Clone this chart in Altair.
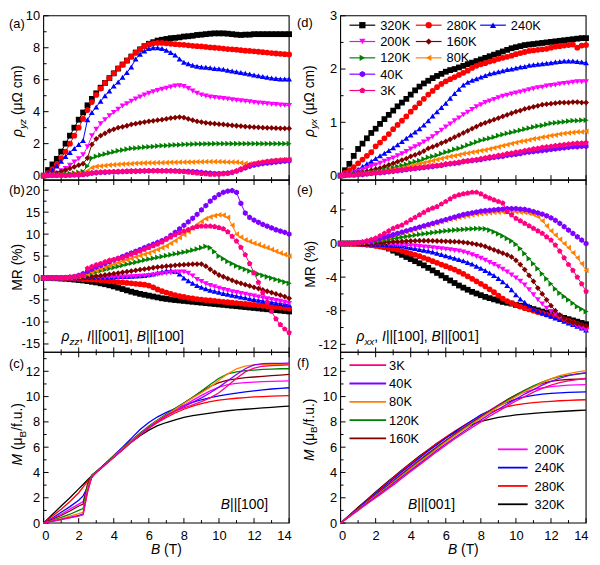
import altair as alt
import pandas as pd

FONT = "Liberation Sans"

# ---------------- field grids ----------------
FIELD = [0, 0.25, 0.5, 0.75, 1, 1.25, 1.5, 1.75, 2, 2.25, 2.5, 2.75, 3, 3.25, 3.5, 3.75,
         4, 4.25, 4.5, 4.75, 5, 5.25, 5.5, 5.75, 6, 6.25, 6.5, 6.75, 7, 7.25, 7.5, 7.75,
         8, 8.25, 8.5, 8.75, 9, 9.25, 9.5, 9.75, 10, 10.25, 10.5, 10.75, 11, 11.25, 11.5, 11.75,
         12, 12.25, 12.5, 12.75, 13, 13.25, 13.5, 13.75, 14]
FIELD_M = [0, 0.5, 1, 1.5, 2, 2.25, 2.5, 2.75, 3, 3.5, 4, 4.5, 5, 5.5, 6, 6.5, 7, 7.5,
           8, 8.5, 9, 9.5, 10, 10.5, 11, 11.5, 12, 12.5, 13, 13.5, 14]

TEMPS = ["320K", "280K", "240K", "200K", "160K", "120K", "80K", "40K", "3K"]
COLORS = ["#000000", "#FF0000", "#0000FF", "#FF00FF", "#800000", "#008000", "#FF8000", "#8000FF", "#FF0080"]
HEX = "M0,-1L0.866,-0.5L0.866,0.5L0,1L-0.866,0.5L-0.866,-0.5Z"
PENT = "M0,-1L0.951,-0.309L0.588,0.809L-0.588,0.809L-0.951,-0.309Z"
SHAPES = ["square", "circle", "triangle-up", "triangle-down", "diamond",
          "triangle-right", "triangle-left", HEX, PENT]

# ---------------- (a) rho_yz, B||[100] ----------------
RA_320 = [0, 0.35, 0.7, 1.05, 1.5, 2.0, 2.5, 3.0, 3.5, 3.95, 4.4, 4.8, 5.15, 5.5, 5.8, 6.1,
          6.4, 6.7, 6.95, 7.2, 7.45, 7.7, 7.9, 8.1, 8.25, 8.35, 8.45, 8.5, 8.55, 8.6, 8.62, 8.65,
          8.7, 8.72, 8.75, 8.8, 8.82, 8.85, 8.88, 8.9, 8.9, 8.9, 8.88, 8.85, 8.82, 8.8, 8.82, 8.82,
          8.85, 8.85, 8.85, 8.85, 8.85, 8.85, 8.85, 8.85, 8.85]
RA_280 = [0, 0.15, 0.4, 0.7, 1.1, 1.5, 2.0, 2.5, 3.0, 3.55, 4.1, 4.6, 5.05, 5.45, 5.8, 6.1,
          6.4, 6.7, 6.95, 7.2, 7.45, 7.7, 7.9, 8.1, 8.22, 8.28, 8.3, 8.3, 8.28, 8.25, 8.22, 8.2,
          8.18, 8.15, 8.12, 8.1, 8.08, 8.05, 8.02, 8.0, 7.98, 7.95, 7.92, 7.9, 7.88, 7.85, 7.82, 7.8,
          7.78, 7.75, 7.72, 7.7, 7.67, 7.64, 7.62, 7.6, 7.58]
RA_240 = [0, 0.15, 0.35, 0.6, 0.9, 1.2, 1.45, 1.7, 1.95, 2.2, 3.5, 3.95, 4.3, 4.65, 5.0, 5.3,
          5.6, 5.85, 6.15, 6.45, 6.8, 7.3, 7.6, 7.8, 7.95, 8.0, 8.0, 7.95, 7.85, 7.7, 7.55, 7.3,
          7.1, 7.0, 6.9, 6.85, 6.8, 6.78, 6.75, 6.7, 6.68, 6.65, 6.6, 6.55, 6.5, 6.45, 6.4, 6.35,
          6.3, 6.25, 6.2, 6.15, 6.1, 6.08, 6.05, 6.05, 6.05]
RA_200 = [0, 0.03, 0.08, 0.15, 0.3, 0.45, 0.65, 0.85, 1.05, 1.3, 1.8, 2.5, 2.9, 3.25, 3.5, 3.75,
          3.95, 4.15, 4.35, 4.5, 4.65, 4.8, 4.92, 5.05, 5.15, 5.25, 5.32, 5.4, 5.47, 5.55, 5.6, 5.62,
          5.58, 5.45, 5.3, 5.15, 5.05, 4.98, 4.92, 4.88, 4.85, 4.82, 4.8, 4.75, 4.72, 4.68, 4.65, 4.62,
          4.58, 4.55, 4.52, 4.5, 4.47, 4.45, 4.42, 4.4, 4.38]
RA_160 = [0, 0.03, 0.08, 0.15, 0.25, 0.35, 0.45, 0.55, 0.65, 0.75, 1.1, 1.95, 2.3, 2.5, 2.65, 2.8,
          2.9, 3.0, 3.05, 3.12, 3.2, 3.25, 3.3, 3.35, 3.4, 3.43, 3.47, 3.5, 3.55, 3.6, 3.63, 3.66,
          3.63, 3.55, 3.47, 3.4, 3.35, 3.3, 3.27, 3.25, 3.22, 3.2, 3.17, 3.15, 3.12, 3.1, 3.07, 3.05,
          3.03, 3.02, 3.0, 2.99, 2.98, 2.97, 2.96, 2.95, 2.95]
RA_120 = [0, 0.01, 0.03, 0.05, 0.08, 0.1, 0.13, 0.16, 0.2, 0.25, 0.6, 1.1, 1.2, 1.28, 1.35, 1.42,
          1.48, 1.55, 1.6, 1.65, 1.7, 1.72, 1.75, 1.78, 1.8, 1.82, 1.85, 1.87, 1.88, 1.9, 1.92, 1.93,
          1.95, 1.96, 1.97, 1.98, 1.98, 1.99, 1.99, 2.0, 2.0, 2.0, 2.0, 2.0, 2.0, 2.0, 2.0, 2.0,
          2.0, 2.0, 2.0, 2.0, 2.0, 2.0, 2.0, 2.0, 2.0]
RA_80 = [0, 0.01, 0.02, 0.03, 0.04, 0.05, 0.06, 0.08, 0.1, 0.13, 0.3, 0.5, 0.57, 0.6, 0.63, 0.66,
         0.68, 0.7, 0.72, 0.74, 0.75, 0.77, 0.78, 0.79, 0.8, 0.8, 0.81, 0.81, 0.82, 0.83, 0.83, 0.84,
         0.84, 0.85, 0.85, 0.86, 0.86, 0.87, 0.87, 0.87, 0.87, 0.86, 0.85, 0.85, 0.84, 0.8, 0.76, 0.74,
         0.76, 0.8, 0.84, 0.88, 0.92, 0.95, 0.98, 1.0, 1.02]
RA_40 = [0, 0, 0.01, 0.01, 0.02, 0.02, 0.03, 0.04, 0.05, 0.06, 0.1, 0.15, 0.18, 0.2, 0.21, 0.22,
         0.23, 0.24, 0.25, 0.26, 0.27, 0.27, 0.28, 0.28, 0.29, 0.3, 0.3, 0.3, 0.3, 0.3, 0.29, 0.28,
         0.27, 0.26, 0.25, 0.23, 0.2, 0.17, 0.15, 0.13, 0.13, 0.14, 0.16, 0.2, 0.28, 0.38, 0.48, 0.58,
         0.65, 0.7, 0.75, 0.79, 0.82, 0.85, 0.88, 0.9, 0.92]
RA_3 = [0, 0, 0.01, 0.01, 0.02, 0.02, 0.03, 0.04, 0.05, 0.06, 0.12, 0.17, 0.2, 0.22, 0.23, 0.24,
        0.25, 0.26, 0.27, 0.28, 0.29, 0.3, 0.3, 0.31, 0.31, 0.31, 0.31, 0.3, 0.3, 0.29, 0.28, 0.26,
        0.24, 0.21, 0.18, 0.15, 0.12, 0.1, 0.08, 0.08, 0.09, 0.11, 0.14, 0.2, 0.3, 0.42, 0.55, 0.66,
        0.74, 0.8, 0.85, 0.89, 0.92, 0.95, 0.97, 0.99, 1.0]

# ---------------- (b) MR rho_zz ----------------
MRB_320 = [0, 0, -0.02, -0.05, -0.1, -0.15, -0.25, -0.35, -0.45, -0.55, -0.7, -0.85, -1.0, -1.2, -1.4, -1.65,
           -1.9, -2.2, -2.5, -2.8, -3.1, -3.35, -3.6, -3.8, -4.0, -4.2, -4.4, -4.6, -4.75, -4.88, -5.0, -5.1,
           -5.2, -5.3, -5.4, -5.5, -5.6, -5.7, -5.8, -5.9, -6.0, -6.1, -6.2, -6.3, -6.4, -6.5, -6.6, -6.7,
           -6.8, -6.9, -7.0, -7.1, -7.2, -7.3, -7.4, -7.5, -7.6]
MRB_280 = [0, 0, 0, -0.02, -0.05, -0.08, -0.1, -0.15, -0.2, -0.25, -0.3, -0.35, -0.4, -0.5, -0.6, -0.7,
           -0.8, -0.9, -1.0, -1.1, -1.2, -1.3, -1.4, -1.5, -1.7, -2.1, -2.6, -3.0, -3.3, -3.6, -3.9, -4.1,
           -4.3, -4.5, -4.65, -4.8, -4.9, -5.0, -5.1, -5.2, -5.3, -5.4, -5.5, -5.6, -5.7, -5.8, -5.9, -6.0,
           -6.1, -6.2, -6.3, -6.4, -6.5, -6.6, -6.7, -6.8, -6.9]
MRB_240 = [0, 0, 0, 0.02, 0.03, 0.05, 0.07, 0.08, 0.1, 0.12, 0.15, 0.17, 0.2, 0.22, 0.25, 0.27,
           0.3, 0.33, 0.36, 0.38, 0.4, 0.45, 0.5, 0.6, 0.75, 0.95, 1.2, 1.45, 1.65, 1.75, 1.5, 0.9,
           0.0, -0.6, -1.2, -1.7, -2.1, -2.45, -2.75, -3.0, -3.25, -3.5, -3.7, -3.9, -4.1, -4.3, -4.5, -4.7,
           -4.9, -5.05, -5.2, -5.35, -5.5, -5.65, -5.8, -5.95, -6.1]
MRB_200 = [0, 0, 0, 0, 0, 0.01, 0.02, 0.03, 0.04, 0.05, 0.06, 0.08, 0.1, 0.12, 0.14, 0.16,
           0.18, 0.2, 0.22, 0.25, 0.3, 0.35, 0.4, 0.5, 0.6, 0.7, 0.85, 1.0, 1.1, 1.2, 1.3, 1.4,
           1.4, 1.1, 0.5, -0.3, -0.8, -1.3, -1.7, -2.0, -2.3, -2.6, -2.85, -3.1, -3.3, -3.5, -3.7, -3.9,
           -4.1, -4.3, -4.5, -4.7, -4.9, -5.1, -5.3, -5.5, -5.8]
MRB_160 = [0, 0, 0.01, 0.02, 0.04, 0.06, 0.09, 0.12, 0.16, 0.2, 0.25, 0.3, 0.45, 0.55, 0.7, 0.85,
           1.0, 1.15, 1.3, 1.45, 1.6, 1.75, 1.9, 2.05, 2.2, 2.35, 2.5, 2.6, 2.7, 2.8, 2.9, 3.0,
           3.05, 3.1, 3.15, 3.2, 3.2, 2.7, 2.0, 1.3, 0.7, 0.3, -0.1, -0.5, -0.9, -1.2, -1.5, -1.8,
           -2.1, -2.4, -2.7, -3.0, -3.3, -3.6, -3.9, -4.2, -4.6]
MRB_120 = [0, 0, 0.01, 0.03, 0.06, 0.1, 0.15, 0.2, 0.3, 0.5, 0.8, 1.1, 1.4, 1.65, 1.9, 2.15,
           2.4, 2.65, 2.9, 3.15, 3.4, 3.6, 3.85, 4.1, 4.3, 4.5, 4.7, 4.9, 5.1, 5.3, 5.5, 5.7,
           5.9, 6.1, 6.35, 6.6, 6.9, 7.2, 6.9, 6.0, 5.0, 4.4, 3.8, 3.3, 2.8, 2.4, 2.0, 1.6,
           1.25, 0.9, 0.6, 0.3, 0.0, -0.3, -0.6, -0.9, -1.2]
MRB_80 = [0, 0, 0.01, 0.03, 0.06, 0.1, 0.15, 0.25, 0.35, 0.55, 0.9, 1.3, 1.7, 2.1, 2.45, 2.8,
          3.15, 3.5, 3.85, 4.15, 4.45, 4.8, 5.1, 5.4, 5.7, 6.1, 6.5, 6.9, 7.3, 7.9, 8.5, 9.2,
          9.9, 10.6, 11.4, 12.2, 12.9, 13.5, 13.9, 14.2, 14.4, 14.3, 13.8, 12.0, 10.0, 9.3, 8.7, 8.3,
          7.9, 7.6, 7.2, 6.9, 6.5, 6.1, 5.7, 5.35, 5.0]
MRB_40 = [0, 0, 0.01, 0.03, 0.06, 0.1, 0.2, 0.3, 0.6, 1.0, 1.5, 2.0, 2.5, 2.9, 3.3, 3.7,
          4.1, 4.5, 4.9, 5.3, 5.7, 6.1, 6.5, 6.9, 7.3, 7.7, 8.1, 8.5, 9.0, 9.7, 10.4, 11.2,
          12.0, 12.8, 13.6, 14.5, 15.5, 16.5, 17.5, 18.3, 19.0, 19.5, 19.8, 19.9, 19.5, 17.0, 14.8, 13.8,
          13.2, 12.7, 12.2, 11.8, 11.4, 11.0, 10.7, 10.4, 10.0]
MRB_3 = [0, 0, 0.01, 0.03, 0.06, 0.1, 0.2, 0.3, 0.45, 0.65, 2.2, 2.6, 3.0, 3.3, 3.7, 4.0,
         4.2, 4.4, 4.6, 5.0, 5.4, 5.8, 6.1, 6.5, 6.9, 7.3, 7.7, 8.2, 8.8, 9.3, 9.8, 10.3,
         10.7, 11.0, 11.4, 11.7, 11.8, 11.8, 11.8, 11.7, 11.5, 11.2, 10.5, 9.5, 8.4, 7.0, 5.3, 3.3,
         1.2, -1.0, -3.3, -5.5, -7.6, -9.3, -10.6, -11.6, -12.4]

# ---------------- (c) M, B||[100] ----------------
MC_320 = [0, 0.68, 1.35, 2.0, 2.7, 3.05, 3.4, 3.75, 4.05, 4.65, 5.2, 5.8, 6.4, 6.9, 7.35, 7.7,
          7.95, 8.15, 8.35, 8.5, 8.6, 8.7, 8.8, 8.88, 8.95, 9.0, 9.05, 9.1, 9.15, 9.2, 9.25]
MC_280 = [0, 0.55, 1.1, 1.7, 2.4, 2.85, 3.3, 3.65, 4.0, 4.65, 5.25, 5.85, 6.45, 7.0, 7.5, 7.95,
          8.35, 8.7, 9.0, 9.25, 9.45, 9.6, 9.72, 9.8, 9.87, 9.92, 9.97, 10.0, 10.03, 10.06, 10.08]
MC_240 = [0, 0.4, 0.85, 1.3, 1.8, 2.15, 2.8, 3.6, 4.05, 4.7, 5.35, 6.0, 6.7, 7.4, 7.95, 8.4,
          8.75, 9.05, 9.3, 9.55, 9.75, 9.92, 10.05, 10.18, 10.28, 10.38, 10.46, 10.53, 10.6, 10.65, 10.7]
MC_200 = [0, 0.35, 0.7, 1.1, 1.5, 1.7, 2.9, 3.7, 4.0, 4.65, 5.3, 5.9, 6.5, 7.1, 7.6, 8.05,
          8.5, 8.9, 9.3, 9.7, 10.1, 10.45, 10.75, 10.95, 11.05, 11.1, 11.15, 11.18, 11.2, 11.22, 11.25]
MC_160 = [0, 0.3, 0.6, 0.95, 1.35, 1.5, 3.1, 3.8, 4.05, 4.65, 5.3, 5.9, 6.5, 7.1, 7.65, 8.15,
          8.6, 9.05, 9.5, 9.95, 10.4, 10.8, 11.1, 11.3, 11.4, 11.5, 11.55, 11.6, 11.65, 11.7, 11.75]
MC_120 = [0, 0.22, 0.45, 0.7, 1.0, 1.15, 2.9, 3.8, 4.05, 4.65, 5.3, 5.9, 6.5, 7.1, 7.65, 8.15,
          8.6, 9.05, 9.5, 9.95, 10.45, 10.95, 11.45, 11.8, 11.95, 12.05, 12.1, 12.15, 12.18, 12.2, 12.2]
MC_80 = [0, 0.17, 0.35, 0.55, 0.75, 0.85, 2.7, 3.75, 4.0, 4.6, 5.25, 5.85, 6.45, 7.05, 7.6, 8.1,
         8.55, 9.0, 9.45, 9.9, 10.3, 10.75, 11.3, 11.8, 12.2, 12.4, 12.5, 12.55, 12.55, 12.55, 12.55]
MC_40 = [0, 0.15, 0.3, 0.45, 0.6, 0.7, 2.5, 3.7, 4.0, 4.6, 5.2, 5.8, 6.4, 7.0, 7.55, 8.05,
         8.5, 8.85, 9.2, 9.55, 9.9, 10.3, 10.75, 11.25, 11.75, 12.2, 12.5, 12.6, 12.62, 12.63, 12.65]
MC_3 = [0, 0.14, 0.28, 0.42, 0.55, 0.65, 2.4, 3.7, 4.0, 4.6, 5.2, 5.8, 6.4, 6.95, 7.5, 8.0,
        8.45, 8.85, 9.1, 9.35, 9.6, 9.9, 10.3, 10.85, 11.45, 11.95, 12.25, 12.4, 12.45, 12.47, 12.5]

# ---------------- (d) rho_yx, B||[001] ----------------
RD_320 = [0, 0.1, 0.22, 0.37, 0.5, 0.6, 0.7, 0.8, 0.88, 0.97, 1.06, 1.14, 1.22, 1.3, 1.37, 1.44,
          1.52, 1.6, 1.67, 1.73, 1.78, 1.83, 1.87, 1.91, 1.95, 1.98, 2.0, 2.03, 2.06, 2.09, 2.12, 2.15,
          2.18, 2.21, 2.24, 2.27, 2.3, 2.33, 2.36, 2.39, 2.41, 2.43, 2.45, 2.46, 2.47, 2.48, 2.49, 2.5,
          2.51, 2.52, 2.53, 2.54, 2.55, 2.56, 2.57, 2.58, 2.58]
RD_280 = [0, 0.05, 0.1, 0.16, 0.23, 0.3, 0.37, 0.44, 0.55, 0.62, 0.7, 0.78, 0.87, 0.95, 1.03, 1.11,
          1.2, 1.28, 1.36, 1.44, 1.52, 1.59, 1.66, 1.72, 1.77, 1.81, 1.85, 1.89, 1.93, 1.97, 2.02, 2.06,
          2.09, 2.11, 2.14, 2.16, 2.19, 2.21, 2.23, 2.25, 2.28, 2.3, 2.32, 2.34, 2.35, 2.36, 2.37, 2.38,
          2.4, 2.42, 2.43, 2.44, 2.45, 2.46, 2.4, 2.44, 2.45]
RD_240 = [0, 0.02, 0.05, 0.08, 0.12, 0.17, 0.22, 0.27, 0.32, 0.37, 0.42, 0.47, 0.52, 0.58, 0.64, 0.7,
          0.76, 0.82, 0.88, 0.95, 1.03, 1.12, 1.2, 1.28, 1.36, 1.45, 1.54, 1.62, 1.7, 1.75, 1.79, 1.82,
          1.85, 1.88, 1.91, 1.93, 1.95, 1.97, 1.99, 2.0, 2.02, 2.04, 2.05, 2.07, 2.08, 2.09, 2.1, 2.11,
          2.12, 2.13, 2.14, 2.15, 2.15, 2.15, 2.14, 2.13, 2.12]
RD_200 = [0, 0.01, 0.03, 0.05, 0.08, 0.11, 0.14, 0.17, 0.2, 0.23, 0.27, 0.3, 0.33, 0.37, 0.41, 0.45,
          0.5, 0.54, 0.58, 0.63, 0.68, 0.73, 0.79, 0.85, 0.91, 0.97, 1.03, 1.08, 1.14, 1.19, 1.24, 1.29,
          1.33, 1.37, 1.4, 1.43, 1.46, 1.49, 1.51, 1.53, 1.55, 1.57, 1.59, 1.61, 1.63, 1.65, 1.66, 1.68,
          1.69, 1.7, 1.72, 1.73, 1.74, 1.75, 1.76, 1.76, 1.76]
RD_160 = [0, 0.01, 0.02, 0.03, 0.05, 0.06, 0.08, 0.1, 0.12, 0.14, 0.17, 0.2, 0.23, 0.26, 0.29, 0.32,
          0.36, 0.39, 0.42, 0.46, 0.51, 0.54, 0.57, 0.61, 0.64, 0.68, 0.72, 0.76, 0.8, 0.84, 0.88, 0.92,
          0.96, 0.99, 1.02, 1.05, 1.08, 1.11, 1.14, 1.17, 1.2, 1.22, 1.25, 1.27, 1.29, 1.31, 1.33, 1.34,
          1.35, 1.36, 1.37, 1.37, 1.37, 1.38, 1.38, 1.37, 1.37]
RD_120 = [0, 0, 0.01, 0.02, 0.03, 0.04, 0.05, 0.06, 0.08, 0.09, 0.11, 0.13, 0.15, 0.17, 0.19, 0.21,
          0.24, 0.26, 0.28, 0.31, 0.34, 0.36, 0.38, 0.41, 0.44, 0.46, 0.49, 0.51, 0.54, 0.57, 0.6, 0.63,
          0.66, 0.68, 0.7, 0.72, 0.75, 0.77, 0.79, 0.81, 0.83, 0.85, 0.87, 0.89, 0.91, 0.93, 0.94, 0.96,
          0.98, 0.99, 1.0, 1.01, 1.02, 1.03, 1.03, 1.04, 1.04]
RD_80 = [0, 0, 0.01, 0.01, 0.02, 0.03, 0.04, 0.05, 0.06, 0.07, 0.08, 0.1, 0.11, 0.13, 0.14, 0.16,
         0.18, 0.2, 0.22, 0.24, 0.26, 0.28, 0.3, 0.32, 0.34, 0.36, 0.37, 0.39, 0.41, 0.42, 0.44, 0.45,
         0.47, 0.48, 0.5, 0.52, 0.54, 0.56, 0.58, 0.6, 0.62, 0.64, 0.65, 0.67, 0.69, 0.7, 0.72, 0.73,
         0.75, 0.76, 0.78, 0.79, 0.8, 0.81, 0.82, 0.82, 0.83]
RD_40 = [0, 0, 0.01, 0.01, 0.02, 0.02, 0.03, 0.04, 0.05, 0.05, 0.06, 0.07, 0.08, 0.09, 0.1, 0.11,
         0.12, 0.13, 0.14, 0.15, 0.16, 0.17, 0.18, 0.19, 0.21, 0.22, 0.23, 0.24, 0.26, 0.27, 0.28, 0.29,
         0.3, 0.32, 0.33, 0.34, 0.35, 0.36, 0.38, 0.39, 0.4, 0.41, 0.43, 0.44, 0.45, 0.46, 0.47, 0.48,
         0.49, 0.5, 0.51, 0.52, 0.53, 0.54, 0.54, 0.55, 0.55]
RD_3 = [0, 0, 0.01, 0.01, 0.02, 0.03, 0.03, 0.04, 0.05, 0.06, 0.07, 0.08, 0.09, 0.1, 0.11, 0.12,
        0.13, 0.14, 0.15, 0.16, 0.17, 0.18, 0.19, 0.2, 0.22, 0.23, 0.24, 0.25, 0.27, 0.28, 0.29, 0.3,
        0.32, 0.33, 0.35, 0.36, 0.38, 0.39, 0.41, 0.42, 0.44, 0.45, 0.47, 0.48, 0.5, 0.51, 0.53, 0.54,
        0.55, 0.56, 0.57, 0.58, 0.59, 0.6, 0.61, 0.61, 0.62]

# ---------------- (e) MR rho_xx ----------------
MRE_320 = [0, 0, 0, 0, 0, -0.02, -0.05, -0.1, -0.15, -0.25, -0.4, -0.6, -0.85, -1.1, -1.35, -1.6,
           -1.85, -2.1, -2.35, -2.6, -2.9, -3.2, -3.5, -3.8, -4.1, -4.4, -4.7, -5.0, -5.25, -5.5, -5.75, -5.95,
           -6.15, -6.35, -6.5, -6.65, -6.8, -6.95, -7.05, -7.15, -7.3, -7.4, -7.5, -7.65, -7.8, -7.95, -8.1, -8.25,
           -8.4, -8.55, -8.7, -8.85, -9.0, -9.15, -9.3, -9.45, -9.6]
MRE_280 = [0, 0, 0, -0.02, -0.05, -0.1, -0.15, -0.2, -0.28, -0.36, -0.45, -0.55, -0.65, -0.75, -0.9, -1.05,
           -1.2, -1.35, -1.5, -1.7, -1.9, -2.1, -2.3, -2.5, -2.7, -2.9, -3.1, -3.35, -3.6, -3.9, -4.2, -4.5,
           -4.8, -5.1, -5.45, -5.8, -6.2, -6.55, -6.85, -7.1, -7.3, -7.5, -7.7, -7.85, -8.0, -8.15, -8.3, -8.45,
           -8.6, -8.75, -8.9, -9.05, -9.2, -9.4, -9.6, -9.8, -10.0]
MRE_240 = [0, 0, 0, 0, 0, -0.02, -0.04, -0.06, -0.08, -0.1, -0.13, -0.17, -0.2, -0.25, -0.3, -0.4,
           -0.5, -0.6, -0.7, -0.8, -0.9, -1.0, -1.15, -1.3, -1.45, -1.6, -1.75, -1.9, -2.05, -2.25, -2.45, -2.7,
           -2.95, -3.2, -3.5, -3.8, -4.15, -4.55, -5.0, -5.5, -6.1, -6.6, -7.0, -7.4, -7.8, -8.05, -8.25, -8.45,
           -8.65, -8.85, -9.05, -9.25, -9.45, -9.65, -9.85, -10.05, -10.3]
MRE_200 = [0, 0, 0, 0, 0, 0, -0.01, -0.02, -0.03, -0.05, -0.07, -0.09, -0.12, -0.15, -0.18, -0.22,
           -0.26, -0.3, -0.35, -0.4, -0.45, -0.5, -0.56, -0.62, -0.68, -0.75, -0.82, -0.9, -1.0, -1.15, -1.35, -1.55,
           -1.75, -2.0, -2.25, -2.5, -2.75, -3.05, -3.4, -3.75, -4.1, -4.5, -4.95, -5.5, -6.1, -6.7, -7.2, -7.7,
           -8.1, -8.45, -8.8, -9.1, -9.35, -9.6, -9.85, -10.1, -10.3]
MRE_160 = [0, 0, 0, 0.01, 0.02, 0.04, 0.06, 0.08, 0.1, 0.12, 0.15, 0.18, 0.2, 0.22, 0.25, 0.28,
           0.3, 0.32, 0.33, 0.33, 0.33, 0.32, 0.3, 0.28, 0.26, 0.24, 0.22, 0.2, 0.15, 0.08, 0.0, -0.1,
           -0.2, -0.35, -0.55, -0.75, -0.95, -1.15, -1.35, -1.6, -2.0, -2.5, -3.1, -3.8, -4.5, -5.3, -6.0, -6.7,
           -7.4, -8.0, -8.5, -8.9, -9.2, -9.4, -9.55, -9.65, -9.8]
MRE_120 = [0, 0, 0.01, 0.03, 0.06, 0.1, 0.15, 0.2, 0.27, 0.35, 0.43, 0.52, 0.6, 0.68, 0.76, 0.84,
           0.92, 1.0, 1.08, 1.15, 1.22, 1.3, 1.37, 1.43, 1.5, 1.55, 1.6, 1.64, 1.68, 1.72, 1.75, 1.78,
           1.78, 1.75, 1.6, 1.4, 1.15, 0.9, 0.6, 0.3, -0.1, -0.6, -1.2, -1.8, -2.4, -3.0, -3.6, -4.2,
           -4.8, -5.4, -5.9, -6.3, -6.7, -7.1, -7.5, -7.8, -8.1]
MRE_80 = [0, 0, 0.02, 0.05, 0.1, 0.15, 0.22, 0.3, 0.45, 0.55, 0.68, 0.8, 0.95, 1.1, 1.25, 1.4,
          1.55, 1.7, 1.85, 2.0, 2.15, 2.3, 2.45, 2.6, 2.75, 2.9, 3.0, 3.1, 3.2, 3.3, 3.4, 3.5,
          3.55, 3.6, 3.65, 3.7, 3.75, 3.78, 3.8, 3.8, 3.78, 3.75, 3.7, 3.6, 3.45, 3.2, 2.7, 2.1,
          1.5, 1.0, 0.5, 0.0, -0.5, -1.1, -1.7, -2.4, -3.2]
MRE_40 = [0, 0, 0.02, 0.05, 0.1, 0.17, 0.25, 0.35, 0.47, 0.6, 0.75, 0.9, 1.05, 1.2, 1.35, 1.5,
          1.65, 1.8, 1.95, 2.1, 2.25, 2.4, 2.55, 2.7, 2.85, 3.0, 3.15, 3.3, 3.45, 3.55, 3.65, 3.75,
          3.85, 3.9, 3.95, 4.0, 4.05, 4.1, 4.15, 4.15, 4.15, 4.1, 4.05, 3.95, 3.8, 3.65, 3.5, 3.3,
          3.05, 2.75, 2.4, 2.0, 1.6, 1.2, 0.8, 0.4, 0.0]
MRE_3 = [0, 0, 0.02, 0.05, 0.1, 0.18, 0.3, 0.45, 0.65, 0.9, 1.2, 1.5, 1.8, 2.0, 2.2, 2.5,
         2.8, 3.1, 3.4, 3.7, 4.0, 4.2, 4.4, 4.7, 5.0, 5.3, 5.6, 5.8, 5.9, 6.0, 6.1, 6.1,
         5.9, 5.6, 5.4, 5.2, 5.0, 4.8, 3.8, 3.4, 3.0, 2.7, 2.4, 2.1, 1.8, 1.5, 1.2, 0.8,
         0.4, -0.2, -0.9, -1.7, -2.5, -3.2, -4.0, -4.8, -5.7]

# ---------------- (f) M, B||[001] ----------------
MF_320 = [0, 0.62, 1.25, 1.85, 2.45, 2.75, 3.05, 3.35, 3.62, 4.2, 4.75, 5.3, 5.8, 6.3, 6.75, 7.15,
          7.5, 7.8, 8.05, 8.2, 8.35, 8.45, 8.55, 8.62, 8.68, 8.73, 8.78, 8.82, 8.86, 8.9, 8.93]
MF_280 = [0, 0.6, 1.2, 1.8, 2.4, 2.7, 3.0, 3.3, 3.58, 4.15, 4.7, 5.25, 5.8, 6.3, 6.8, 7.25,
          7.7, 8.1, 8.45, 8.75, 9.0, 9.2, 9.35, 9.45, 9.52, 9.58, 9.63, 9.67, 9.7, 9.73, 9.75]
MF_240 = [0, 0.58, 1.16, 1.74, 2.32, 2.61, 2.9, 3.19, 3.48, 4.05, 4.6, 5.15, 5.7, 6.2, 6.7, 7.2,
          7.65, 8.1, 8.55, 8.9, 9.25, 9.55, 9.8, 9.98, 10.1, 10.2, 10.26, 10.3, 10.33, 10.36, 10.38]
MF_200 = [0, 0.56, 1.12, 1.68, 2.24, 2.52, 2.8, 3.08, 3.36, 3.92, 4.47, 5.0, 5.53, 6.05, 6.55, 7.05,
          7.55, 8.0, 8.45, 8.9, 9.35, 9.75, 10.1, 10.35, 10.55, 10.68, 10.78, 10.85, 10.9, 10.93, 10.95]
MF_160 = [0, 0.55, 1.1, 1.65, 2.2, 2.47, 2.75, 3.02, 3.3, 3.85, 4.4, 4.95, 5.5, 6.0, 6.5, 7.0,
          7.5, 7.95, 8.4, 8.85, 9.3, 9.75, 10.15, 10.5, 10.8, 11.05, 11.2, 11.3, 11.35, 11.38, 11.4]
MF_120 = [0, 0.54, 1.08, 1.62, 2.16, 2.43, 2.7, 2.97, 3.25, 3.8, 4.35, 4.9, 5.42, 5.95, 6.45, 6.95,
          7.45, 7.9, 8.35, 8.8, 9.25, 9.7, 10.1, 10.5, 10.85, 11.15, 11.4, 11.58, 11.7, 11.78, 11.85]
MF_80 = [0, 0.53, 1.06, 1.6, 2.13, 2.4, 2.66, 2.93, 3.2, 3.75, 4.3, 4.82, 5.35, 5.88, 6.4, 6.9,
         7.38, 7.85, 8.3, 8.75, 9.2, 9.6, 10.0, 10.4, 10.75, 11.1, 11.4, 11.65, 11.82, 11.95, 12.05]
MF_40 = [0, 0.52, 1.04, 1.56, 2.08, 2.34, 2.6, 2.86, 3.12, 3.65, 4.18, 4.7, 5.22, 5.75, 6.25, 6.75,
         7.22, 7.7, 8.15, 8.6, 9.0, 9.4, 9.8, 10.2, 10.55, 10.9, 11.2, 11.45, 11.65, 11.8, 11.9]
MF_3 = [0, 0.5, 1.0, 1.5, 2.0, 2.25, 2.5, 2.75, 3.0, 3.55, 4.08, 4.6, 5.12, 5.65, 6.15, 6.65,
        7.1, 7.55, 8.0, 8.45, 8.85, 9.25, 9.65, 10.0, 10.35, 10.65, 10.9, 11.1, 11.25, 11.35, 11.45]

# ---------------- ticks, domains, text ----------------
X_MAJ = [0, 2, 4, 6, 8, 10, 12, 14]
X_MIN = [1, 3, 5, 7, 9, 11, 13]
YA_MAJ, YA_MIN, YA_DOM = [0, 2, 4, 6, 8, 10], [1, 3, 5, 7, 9], [-0.28, 10]
YB_MAJ, YB_MIN, YB_DOM = [-15, -10, -5, 0, 5, 10, 15, 20], [-12.5, -7.5, -2.5, 2.5, 7.5, 12.5, 17.5], [-16.9, 22.3]
YC_MAJ, YC_MIN, YC_DOM = [0, 2, 4, 6, 8, 10, 12], [1, 3, 5, 7, 9, 11, 13], [0, 13.5]
YD_MAJ, YD_MIN, YD_DOM = [0, 1, 2, 3], [0.5, 1.5, 2.5], [-0.085, 3]
YE_MAJ, YE_MIN, YE_DOM = [-12, -8, -4, 0, 4], [-10, -6, -2, 2, 6], [-12.95, 7.55]

LEG_D_ROWS = [["320K", "280K", "240K"], ["200K", "160K"], ["120K", "80K"], ["40K"], ["3K"]]
LEG_F_LEFT = ["3K", "40K", "80K", "120K", "160K"]
LEG_F_RIGHT = ["200K", "240K", "280K", "320K"]

TITLE_RYZ = [("ρ", "i", 14, False), ("yz", "i", 10, True), (" (μΩ cm)", "n", 14, False)]
TITLE_RYX = [("ρ", "i", 14, False), ("yx", "i", 10, True), (" (μΩ cm)", "n", 14, False)]
TITLE_MR = [("MR (%)", "n", 14, False)]
TITLE_M = [("M", "i", 14, False), (" (μ", "n", 14, False), ("B", "n", 10, True), ("/f.u.)", "n", 14, False)]
ANN_B = [("ρ", "i", 14, False), ("zz", "i", 10, True), (", ", "n", 14, False), ("I", "i", 14, False),
         ("||[001], ", "n", 14, False), ("B", "i", 14, False), ("||[100]", "n", 14, False)]
ANN_E = [("ρ", "i", 14, False), ("xx", "i", 10, True), (", ", "n", 14, False), ("I", "i", 14, False),
         ("||[100], ", "n", 14, False), ("B", "i", 14, False), ("||[001]", "n", 14, False)]
ANN_C = [("B", "i", 14, False), ("||[100]", "n", 14, False)]
ANN_F = [("B", "i", 14, False), ("||[001]", "n", 14, False)]
XTITLE = [("B", "i", 14, False), (" (T)", "n", 14, False)]

# ---------------- layout (view pixels) ----------------
W, H = 590, 557
LX0, LX1 = 36, 284
RX0, RX1 = 336, 584
ROW_A = (5, 171)
ROW_B = (171, 345)
ROW_C = (345, 517.5)

CW = {' ': 0.278, '(': 0.333, ')': 0.333, ',': 0.278, '.': 0.278, '/': 0.278, '[': 0.278, ']': 0.278,
      '|': 0.26, '%': 0.889, 'B': 0.667, 'I': 0.278, 'K': 0.667, 'M': 0.833, 'R': 0.722, 'T': 0.611,
      'c': 0.5, 'f': 0.278, 'm': 0.833, 'u': 0.556, 'x': 0.5, 'y': 0.5, 'z': 0.5,
      'μ': 0.576, 'Ω': 0.768, 'ρ': 0.578}


def tw(s, fs):
    return sum(CW.get(c, 0.556) for c in s) * fs


def horiz(pieces, x, y, rows):
    for s, sty, fs, sub in pieces:
        lead = len(s) - len(s.lstrip(' '))
        x += tw(' ' * lead, fs)
        core = s.strip(' ')
        rows.append(dict(t=core, x=x, y=y + (3.5 if sub else 0), fs=fs, sty=sty, rot=0))
        x += tw(core, fs) + tw(' ' * (len(s) - lead - len(core)), fs)


def vert(pieces, xb, cy, rows):
    total = sum(tw(p[0], p[2]) for p in pieces)
    y = cy + total / 2
    for s, sty, fs, sub in pieces:
        lead = len(s) - len(s.lstrip(' '))
        y -= tw(' ' * lead, fs)
        core = s.strip(' ')
        rows.append(dict(t=core, x=xb + (3.5 if sub else 0), y=y, fs=fs, sty=sty, rot=1))
        y -= tw(core, fs)


cscale = alt.Scale(domain=TEMPS, range=COLORS)
sscale = alt.Scale(domain=TEMPS, range=SHAPES)
NEG = "datum.value < 0 ? '-' + format(-datum.value, 'd') : format(datum.value, 'd')"


def long_table(arrs, field):
    rows = []
    for t, arr in zip(TEMPS, arrs):
        assert len(arr) == len(field), (t, len(arr))
        for b, v in zip(field, arr):
            rows.append({"B": b, "v": v, "T": t})
    return pd.DataFrame(rows)


def panel(tbl, x0, x1, row, ydom, ymaj, ymin, show_x, top_ticks, markers):
    top, bot = row
    xs = alt.Scale(domain=[0, 14], range=[x0, x1], nice=False, zero=False)
    ys = alt.Scale(domain=ydom, range=[bot, top], nice=False, zero=False)
    if show_x:
        xax = alt.Axis(orient="bottom", offset=-(H - bot), values=X_MAJ, labelFlush=True,
                       labelFlushOffset=2, labelPadding=7, domain=False, ticks=False, tickSize=0,
                       grid=False, labelFont=FONT, labelFontSize=13, labelColor="black",
                       title=None, labelExpr=NEG)
    else:
        xax = None
    yax = alt.Axis(orient="left", offset=-x0, values=ymaj, labelPadding=4, domain=False,
                   ticks=False, tickSize=0, grid=False, labelFont=FONT, labelFontSize=13,
                   labelColor="black", title=None, labelExpr=NEG)

    def X(f):
        return alt.X(f, type="quantitative", scale=xs, axis=xax)

    def Y(f):
        return alt.Y(f, type="quantitative", scale=ys, axis=yax)

    layers = []
    frame = pd.DataFrame({"a": [0], "b": [14], "c": [ydom[0]], "d": [ydom[1]]})
    layers.append(alt.Chart(frame).mark_rect(fillOpacity=0, stroke="black", strokeWidth=1.1).encode(
        x=X("a"), x2="b", y=Y("c"), y2="d"))
    for vals, ln in ((X_MAJ, 5), (X_MIN, 3)):
        d = pd.DataFrame({"v": vals})
        layers.append(alt.Chart(d).mark_rule(color="black", strokeWidth=1).encode(
            x=X("v"), y=alt.value(bot), y2=alt.value(bot - ln)))
        if top_ticks:
            layers.append(alt.Chart(d).mark_rule(color="black", strokeWidth=1).encode(
                x=X("v"), y=alt.value(top), y2=alt.value(top + ln)))
    for vals, ln in ((ymaj, 5), (ymin, 3)):
        d = pd.DataFrame({"v": vals})
        layers.append(alt.Chart(d).mark_rule(color="black", strokeWidth=1).encode(
            y=Y("v"), x=alt.value(x0), x2=alt.value(x0 + ln)))
    col = alt.Color("T:N", scale=cscale, legend=None)
    layers.append(alt.Chart(tbl).mark_line(strokeWidth=1.0 if markers else 1.3).encode(
        x=X("B"), y=Y("v"), color=col))
    if markers:
        layers.append(alt.Chart(tbl).mark_point(filled=True, size=34, opacity=1).encode(
            x=X("B"), y=Y("v"), color=col,
            shape=alt.Shape("T:N", scale=sscale, legend=None)))
    return alt.layer(*layers)


tA = long_table([RA_320, RA_280, RA_240, RA_200, RA_160, RA_120, RA_80, RA_40, RA_3], FIELD)
tB = long_table([MRB_320, MRB_280, MRB_240, MRB_200, MRB_160, MRB_120, MRB_80, MRB_40, MRB_3], FIELD)
tC = long_table([MC_320, MC_280, MC_240, MC_200, MC_160, MC_120, MC_80, MC_40, MC_3], FIELD_M)
tD = long_table([RD_320, RD_280, RD_240, RD_200, RD_160, RD_120, RD_80, RD_40, RD_3], FIELD)
tE = long_table([MRE_320, MRE_280, MRE_240, MRE_200, MRE_160, MRE_120, MRE_80, MRE_40, MRE_3], FIELD)
tF = long_table([MF_320, MF_280, MF_240, MF_200, MF_160, MF_120, MF_80, MF_40, MF_3], FIELD_M)

pA = panel(tA, LX0, LX1, ROW_A, YA_DOM, YA_MAJ, YA_MIN, False, False, True)
pB = panel(tB, LX0, LX1, ROW_B, YB_DOM, YB_MAJ, YB_MIN, False, True, True)
pC = panel(tC, LX0, LX1, ROW_C, YC_DOM, YC_MAJ, YC_MIN, True, True, False)
pD = panel(tD, RX0, RX1, ROW_A, YD_DOM, YD_MAJ, YD_MIN, False, False, True)
pE = panel(tE, RX0, RX1, ROW_B, YE_DOM, YE_MAJ, YE_MIN, False, True, True)
pF = panel(tF, RX0, RX1, ROW_C, YC_DOM, YC_MAJ, YC_MIN, True, True, False)

# ---------------- texts ----------------
trows = []
for lab, x, y in (("(a)", 1, ROW_A[0] + 12.5), ("(b)", 1, ROW_B[0] + 14.5), ("(c)", 1, ROW_C[0] + 16),
                  ("(d)", RX0 - 44, ROW_A[0] + 11.5), ("(e)", RX0 - 44, ROW_B[0] + 14.5),
                  ("(f)", RX0 - 44, ROW_C[0] + 15)):
    trows.append(dict(t=lab, x=x, y=y, fs=13, sty="n", rot=0))
vert(TITLE_RYZ, 14.5, (ROW_A[0] + ROW_A[1]) / 2 + 3, trows)
vert(TITLE_MR, 14.5, (ROW_B[0] + ROW_B[1]) / 2 + 1, trows)
vert(TITLE_M, 14.5, (ROW_C[0] + ROW_C[1]) / 2 - 3.5, trows)
vert(TITLE_RYX, RX0 - 27, (ROW_A[0] + ROW_A[1]) / 2 + 3, trows)
vert(TITLE_MR, RX0 - 26, (ROW_B[0] + ROW_B[1]) / 2 - 2, trows)
vert(TITLE_M, RX0 - 27, (ROW_C[0] + ROW_C[1]) / 2 - 8, trows)
horiz(ANN_B, LX0 + 18, ROW_B[1] - 11, trows)
horiz(ANN_E, RX0 + 16, ROW_B[1] - 11, trows)
horiz(ANN_C, LX0 + 179, ROW_C[1] - 14, trows)
horiz(ANN_F, RX0 + 68, ROW_C[1] - 14, trows)
xt_w = sum(tw(p[0], p[2]) for p in XTITLE)
horiz(XTITLE, (LX0 + LX1) / 2 - xt_w / 2, ROW_C[1] + 31, trows)
horiz(XTITLE, (RX0 + RX1) / 2 - xt_w / 2, ROW_C[1] + 31, trows)

# legend (d): line + marker + label
leg_line, leg_pt = [], []
for r, names in enumerate(LEG_D_ROWS):
    for c, name in enumerate(names):
        lx = RX0 + [9, 76, 141][c]
        ly = ROW_A[0] + 9.5 + 16.5 * r
        leg_line.append(dict(T=name, x=lx, x2=lx + 26, y=ly))
        leg_pt.append(dict(T=name, x=lx + 13, y=ly))
        trows.append(dict(t=name, x=lx + 31, y=ly + 4.6, fs=13, sty="n", rot=0))
# legend (f): lines only
leg_line_f = []
for r, name in enumerate(LEG_F_LEFT):
    ly = ROW_C[0] + 13 + 18.5 * r
    leg_line_f.append(dict(T=name, x=RX0 + 9, x2=RX0 + 46, y=ly))
    trows.append(dict(t=name, x=RX0 + 49, y=ly + 4.6, fs=13, sty="n", rot=0))
for r, name in enumerate(LEG_F_RIGHT):
    ly = ROW_C[0] + 98 + 18.5 * r
    leg_line_f.append(dict(T=name, x=RX0 + 159, x2=RX0 + 189, y=ly))
    trows.append(dict(t=name, x=RX0 + 196, y=ly + 4.6, fs=13, sty="n", rot=0))

tdf = pd.DataFrame(trows)


def text_layer(sty, rot):
    d = tdf[(tdf.sty == sty) & (tdf.rot == rot)]
    return alt.Chart(d).mark_text(align="left", baseline="alphabetic", font=FONT,
                                  fontStyle="italic" if sty == "i" else "normal",
                                  angle=270 if rot else 0, color="black").encode(
        x=alt.X("x:Q", scale=None), y=alt.Y("y:Q", scale=None), text="t:N",
        size=alt.Size("fs:Q", scale=None))


colN = alt.Color("T:N", scale=cscale, legend=None)
legD_lines = alt.Chart(pd.DataFrame(leg_line)).mark_rule(strokeWidth=1.2).encode(
    x=alt.X("x:Q", scale=None), x2="x2:Q", y=alt.Y("y:Q", scale=None), color=colN)
legD_pts = alt.Chart(pd.DataFrame(leg_pt)).mark_point(filled=True, size=40, opacity=1).encode(
    x=alt.X("x:Q", scale=None), y=alt.Y("y:Q", scale=None), color=colN,
    shape=alt.Shape("T:N", scale=sscale, legend=None))
legF_lines = alt.Chart(pd.DataFrame(leg_line_f)).mark_rule(strokeWidth=1.8).encode(
    x=alt.X("x:Q", scale=None), x2="x2:Q", y=alt.Y("y:Q", scale=None), color=colN)

chart = alt.layer(
    pA, pB, pC, pD, pE, pF,
    legD_lines, legD_pts, legF_lines,
    text_layer("n", 0), text_layer("i", 0), text_layer("n", 1), text_layer("i", 1),
).resolve_scale(x="independent", y="independent").properties(
    width=W, height=H, autosize=alt.AutoSizeParams(type="none"), padding=0
).configure_view(strokeWidth=0)

chart.save("out.html", embed_options={"renderer": "svg", "actions": False})
